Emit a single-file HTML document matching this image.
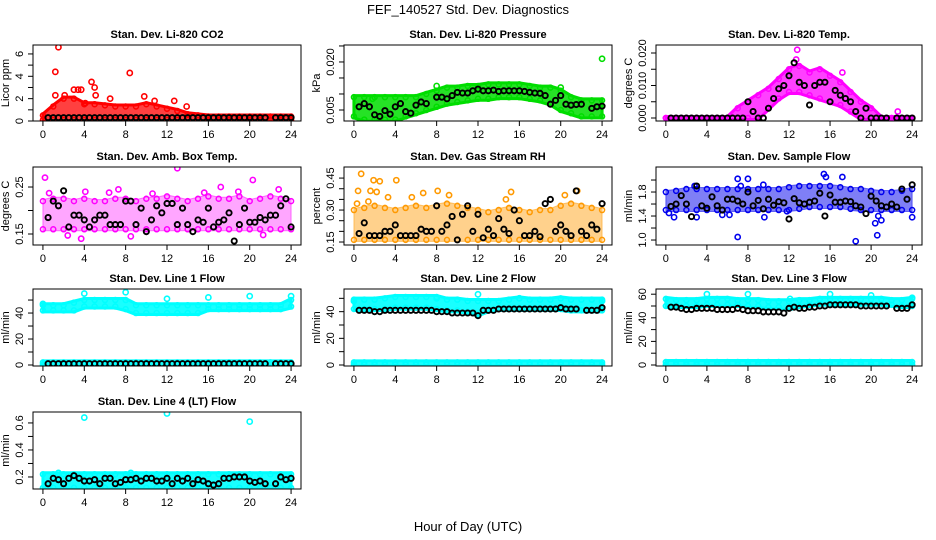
<!DOCTYPE html>
<html><head><meta charset="utf-8">
<style>
html,body{margin:0;padding:0;background:#fff;}
svg{display:block;font-family:"Liberation Sans",Arial,sans-serif;}
</style></head>
<body>
<svg id="chart" width="936" height="540" viewBox="0 0 936 540">
<text x="468" y="14" text-anchor="middle" font-size="13">FEF_140527  Std. Dev. Diagnostics</text>
<text x="468" y="531" text-anchor="middle" font-size="13">Hour of Day (UTC)</text>
</svg>
<script>
const hours25 = [0,1,2,3,4,5,6,7,8,9,10,11,12,13,14,15,16,17,18,19,20,21,22,23,24];
const hours49 = [0,0.5,1,1.5,2,2.5,3,3.5,4,4.5,5,5.5,6,6.5,7,7.5,8,8.5,9,9.5,10,10.5,11,11.5,12,12.5,13,13.5,14,14.5,15,15.5,16,16.5,17,17.5,18,18.5,19,19.5,20,20.5,21,21.5,22,22.5,23,23.5,24];
const xTickLabels = ["0","4","8","12","16","20","24"];

// Panel 1: CO2
const co2Lo = [0.1,0.1,0.1,0.1,0.1,0.1,0.1,0.1,0.1,0.1,0.1,0.1,0.1,0.1,0.1,0.1,0.1,0.1,0.1,0.1,0.1,0.1,0.1,0.1,0.1];
const co2Hi = [0.5,1.3,2.0,2.0,1.5,1.5,1.4,1.3,1.3,1.3,1.5,1.3,1.1,0.9,0.6,0.5,0.4,0.4,0.4,0.4,0.4,0.4,0.4,0.4,0.4];
const co2ExtraX = [1.5,1.2,1.2,8.4,4.7,5.0,3.0,3.4,3.7,5.1,9.8,6.5,12.7,10.8,13.9,2.1,4.1];
const co2ExtraY = [6.6,4.4,2.3,4.3,3.5,3.0,2.8,2.8,2.8,2.3,2.2,2.0,1.8,1.8,1.3,2.3,1.6];
const co2Black = [null,0.3,0.3,0.3,0.3,0.3,0.3,0.3,0.3,0.3,0.3,0.3,0.3,0.3,0.3,0.3,0.3,0.3,0.3,0.3,0.3,0.3,0.3,0.3,0.3,0.3,0.3,0.3,0.3,0.3,0.3,0.3,0.3,0.3,0.3,0.3,0.3,0.3,0.3,0.3,0.3,0.3,0.3,0.3,null,0.3,0.3,0.3,0.3];

// Panel 2: Pressure
const presLo = [0.003,0.002,0.002,0.002,0.002,0.003,0.004,0.005,0.006,0.007,0.0075,0.008,0.0085,0.0085,0.009,0.009,0.009,0.0085,0.008,0.007,0.005,0.004,0.003,0.003,0.003];
const presHi = [0.009,0.009,0.009,0.009,0.009,0.009,0.009,0.010,0.011,0.012,0.012,0.0125,0.0125,0.013,0.013,0.013,0.013,0.0125,0.012,0.012,0.011,0.009,0.008,0.008,0.008];
const presExtraX = [8,16,24,8,1.8,20];
const presExtraY = [0.0265,0.0262,0.021,0.0125,0.0085,0.012];
const presBlack = [null,0.006,0.007,0.006,0.0035,0.003,0.0048,0.0037,0.006,0.007,0.0045,0.004,0.0065,0.0075,0.007,null,0.009,0.009,0.0085,0.0095,0.0105,0.0103,0.0103,0.011,0.0115,0.011,0.011,0.0112,0.0108,0.011,0.011,0.011,0.011,0.0108,0.0105,0.0103,0.0102,0.0095,0.0068,0.008,0.0095,0.0068,0.0065,0.0067,0.0068,null,0.0055,0.006,0.0062];

// Panel 3: Li-820 Temp
const tempLo = [0,0,0,0,0,0,0,0,0,0,0.003,0.006,0.008,0.008,0.007,0.006,0.005,0.004,0.002,0,0,0,0,0,0];
const tempHi = [0,0,0,0,0,0,0,0.003,0.005,0.007,0.009,0.012,0.015,0.016,0.014,0.015,0.013,0.011,0.008,0.005,0.003,0,0,0,0];
const tempExtraX = [12.8,12.7,17.2,22.6];
const tempExtraY = [0.021,0.018,0.014,0.002];
const tempBlack = [null,0,0,0,0,0,0,0,0,0,0,0,0,0,0,0,0.005,0.002,0,0,0.003,0.006,0.009,0.01,0.013,0.017,0.011,0.01,0.004,0.01,0.011,0.011,0.005,0.0085,0.007,0.006,0.005,0.002,0,0.003,0,0,0,0,null,0,0,0,0];

// Panel 4: Amb Box Temp
const ambLo = [0.16,0.16,0.16,0.16,0.16,0.16,0.16,0.16,0.16,0.16,0.16,0.16,0.16,0.16,0.16,0.16,0.16,0.16,0.16,0.16,0.16,0.16,0.16,0.16,0.16];
const ambHi = [0.22,0.225,0.225,0.22,0.225,0.22,0.22,0.225,0.225,0.22,0.225,0.225,0.23,0.225,0.22,0.225,0.23,0.225,0.225,0.23,0.22,0.225,0.23,0.225,0.22];
const ambExtraX = [0.2,13,20.3,22.8,7.3,17.2,3.7,8.5,21.3,2.4,18.9,4.1,15.6,6.4,0.6,10.6];
const ambExtraY = [0.27,0.29,0.265,0.245,0.245,0.25,0.14,0.145,0.148,0.147,0.24,0.24,0.238,0.238,0.237,0.236];
const ambBlack = [null,0.185,0.22,0.21,0.242,0.165,0.19,0.19,0.18,0.165,0.18,0.19,0.19,0.17,0.17,0.17,0.22,0.22,0.17,0.205,0.155,0.18,0.21,0.195,0.215,0.215,0.17,0.205,0.17,0.155,0.18,0.175,0.205,0.165,0.175,0.18,0.195,0.135,0.17,0.205,0.175,0.175,0.185,0.18,0.19,0.19,0.21,0.225,0.165];

// Panel 5: Gas Stream RH
const rhLo = [0.16,0.16,0.16,0.16,0.16,0.16,0.16,0.16,0.16,0.16,0.16,0.16,0.16,0.16,0.16,0.16,0.16,0.16,0.16,0.16,0.16,0.16,0.16,0.16,0.16];
const rhHi = [0.3,0.31,0.32,0.31,0.3,0.31,0.32,0.31,0.32,0.33,0.32,0.31,0.3,0.29,0.3,0.31,0.3,0.29,0.3,0.3,0.32,0.33,0.32,0.31,0.3];
const rhExtraX = [0.7,1.9,2.5,4.1,0.4,1.6,2.2,8.1,15.2,21.6,3.3,5.6,6.7,9.2,14.7,20.4,0.3,1.4];
const rhExtraY = [0.47,0.44,0.435,0.44,0.39,0.39,0.385,0.39,0.385,0.39,0.36,0.36,0.38,0.37,0.35,0.37,0.33,0.34];
const rhBlack = [null,0.19,0.24,0.18,0.18,0.18,0.2,0.2,0.23,0.18,0.18,0.18,0.18,0.21,0.2,0.2,0.32,0.2,0.23,0.27,0.16,0.28,0.32,0.2,0.28,0.17,0.21,0.18,0.26,0.21,0.19,0.3,0.25,0.18,0.18,0.2,0.175,0.33,0.35,0.2,0.23,0.2,0.18,0.39,0.2,0.18,0.23,0.21,0.33];

// Panel 6: Sample Flow
const sfLo = [1.5,1.5,1.5,1.5,1.5,1.5,1.5,1.5,1.5,1.5,1.5,1.5,1.5,1.52,1.55,1.55,1.55,1.55,1.52,1.5,1.5,1.5,1.5,1.5,1.5];
const sfHi = [1.8,1.82,1.85,1.85,1.85,1.85,1.85,1.85,1.85,1.85,1.85,1.85,1.88,1.9,1.9,1.9,1.9,1.88,1.85,1.85,1.82,1.8,1.8,1.82,1.85];
const sfExtraX = [15.4,17.2,7.0,8.0,7.3,9.5,2.8,0.3,0.8,3.0,9.6,7.0,18.5,20.4,20.6,21.0,20.7,24.0,6.2,5.5,15.6,11.8];
const sfExtraY = [2.1,2.05,2.02,2.02,1.9,1.92,1.9,1.45,1.38,1.38,1.38,1.05,0.98,1.28,1.08,1.33,1.4,1.38,1.42,1.42,2.05,1.48];
const sfBlack = [null,1.56,1.6,1.74,1.6,1.39,1.9,1.57,1.53,1.72,1.57,1.5,1.68,1.68,1.65,1.6,1.8,1.57,1.66,1.52,1.68,1.58,1.64,1.62,1.35,1.69,1.62,1.6,1.63,1.65,1.78,1.4,1.75,1.63,1.63,1.65,1.64,1.57,1.55,1.44,1.73,1.65,1.57,1.55,1.6,1.55,1.85,1.68,1.92];

// Panel 7: Line 1 Flow
const l1Lo = [42,42,42,42,45,45,45,45,43,40,40,40,40,40,40,40,43,43,43,43,43,43,43,43,45];
const l1Hi = [46,46,46,48,50,50,50,50,50,46,46,46,46,46,46,46,46,46,46,46,46,46,46,46,50];
const l1BaseLo = [0.3,0.3,0.3,0.3,0.3,0.3,0.3,0.3,0.3,0.3,0.3,0.3,0.3,0.3,0.3,0.3,0.3,0.3,0.3,0.3,0.3,0.3,0.3,0.3,0.3];
const l1BaseHi = [2,2,2,2,2,2,2,2,2,2,2,2,2,2,2,2,2,2,2,2,2,2,2,2,2];
const l1ExtraX = [4,8,12,16,20,24,0];
const l1ExtraY = [55,56,51,52,53,53,47];
const l1Black = [null,1,1,1,1,1,1,1,1,1,1,1,1,1,1,1,1,1,1,1,1,1,1,1,1,1,1,1,1,1,1,1,1,1,1,1,1,1,1,1,1,1,1,1,null,1,1,1,1];

// Panel 8: Line 2 Flow
const l2Lo = [42,42,42,42,43,43,43,43,42,41,41,40,38,41,42,42,42,42,42,42,42,41,41,41,41];
const l2Hi = [49,49,49,50,51,51,51,51,51,49,49,48,48,48,48,49,50,49,49,49,50,49,49,49,49];
const l2BaseLo = [0.3,0.3,0.3,0.3,0.3,0.3,0.3,0.3,0.3,0.3,0.3,0.3,0.3,0.3,0.3,0.3,0.3,0.3,0.3,0.3,0.3,0.3,0.3,0.3,0.3];
const l2BaseHi = [2,2,2,2,2,2,2,2,2,2,2,2,2,2,2,2,2,2,2,2,2,2,2,2,2];
const l2ExtraX = [0,8,16,24,12];
const l2ExtraY = [48,50,50,48,53];
const l2Black = [null,41,41,41,40,40,41,41,41,41,41,41,41,41,41,41,40,40,40,39,39,39,39,39,37,41,41,41,42,42,42,42,42,42,42,42,42,42,42,42,43,42,42,42,null,41,41,41,43];

// Panel 9: Line 3 Flow
const l3Lo = [50,50,50,50,51,51,51,51,50,50,49,49,48,50,51,52,52,52,52,52,52,52,51,50,50];
const l3Hi = [56,55,55,55,56,56,56,55,55,55,54,54,54,55,55,56,56,56,56,56,56,56,55,55,56];
const l3BaseLo = [0.3,0.3,0.3,0.3,0.3,0.3,0.3,0.3,0.3,0.3,0.3,0.3,0.3,0.3,0.3,0.3,0.3,0.3,0.3,0.3,0.3,0.3,0.3,0.3,0.3];
const l3BaseHi = [2.5,2.5,2.5,2.5,2.5,2.5,2.5,2.5,2.5,2.5,2.5,2.5,2.5,2.5,2.5,2.5,2.5,2.5,2.5,2.5,2.5,2.5,2.5,2.5,2.5];
const l3ExtraX = [4,8,16,20,24,12.1];
const l3ExtraY = [60,60,60,59,57,56];
const l3Black = [null,49,49,48,47,47,48,48,48,48,47,47,47,47,48,47,46,46,46,45,45,45,45,44,48,49,48,48,49,49,50,50,51,51,51,51,51,51,50,50,50,50,50,50,null,48,48,48,51];

// Panel 10: Line 4 (LT) Flow
const l4Lo = [0.12,0.12,0.12,0.12,0.12,0.12,0.12,0.12,0.12,0.12,0.12,0.12,0.12,0.12,0.12,0.12,0.12,0.12,0.12,0.12,0.12,0.12,0.12,0.12,0.12];
const l4Hi = [0.22,0.22,0.22,0.22,0.22,0.22,0.22,0.22,0.22,0.22,0.22,0.22,0.22,0.22,0.22,0.22,0.22,0.22,0.22,0.22,0.22,0.22,0.22,0.22,0.22];
const l4ExtraX = [4,12,20,15.5,1.5,8.5];
const l4ExtraY = [0.64,0.67,0.61,0.1,0.23,0.23];
const l4Black = [null,0.15,0.19,0.18,0.15,0.19,0.21,0.19,0.17,0.17,0.18,0.15,0.19,0.19,0.15,0.16,0.18,0.18,0.19,0.17,0.19,0.19,0.17,0.17,0.19,0.15,0.19,0.17,0.19,0.15,0.18,0.17,0.15,0.14,0.15,0.19,0.19,0.2,0.2,0.2,0.17,0.16,0.17,0.15,null,0.15,0.2,0.18,0.19];

const SVGNS = "http://www.w3.org/2000/svg";
const svg = document.getElementById('chart');
function mk(tag, attrs, parent){
  const e = document.createElementNS(SVGNS, tag);
  for (const k in attrs) e.setAttribute(k, attrs[k]);
  parent.appendChild(e);
  return e;
}
const cols = [[33,301],[344,612],[656,922]];
const rows = [[45,121],[167,245],[289,366],[412,489]];
const XMIN = -0.96, XMAX = 24.96;

const panels = [
 {name:'co2',title:'Stan. Dev. Li-820 CO2',yl:'Licor ppm',c:0,r:0,ylim:[0,6.8],ticks:[0,1,2,3,4,5,6],labs:[0,2,4,6],fmt:v=>String(v),col:'#ff0000',lo:co2Lo,hi:co2Hi,ex:co2ExtraX,ey:co2ExtraY,bk:co2Black,op:0.75},
 {name:'pressure',title:'Stan. Dev. Li-820 Pressure',yl:'kPa',c:1,r:0,ylim:[0.00156,0.0253],ticks:[0.005,0.01,0.015,0.02,0.025],labs:[0.005,0.02],fmt:v=>v.toFixed(3),col:'#00dd00',lo:presLo,hi:presHi,ex:presExtraX,ey:presExtraY,bk:presBlack,op:0.85},
 {name:'li820-temp',title:'Stan. Dev. Li-820 Temp.',yl:'degrees C',c:2,r:0,ylim:[-0.00092,0.02246],ticks:[0,0.005,0.01,0.015,0.02],labs:[0,0.01,0.02],fmt:v=>v.toFixed(3),col:'#ff00ff',lo:tempLo,hi:tempHi,ex:tempExtraX,ey:tempExtraY,bk:tempBlack,op:0.75},
 {name:'amb-temp',title:'Stan. Dev. Amb. Box Temp.',yl:'degrees C',c:0,r:1,ylim:[0.1266,0.2926],ticks:[0.15,0.2,0.25],labs:[0.15,0.25],fmt:v=>v.toFixed(2),col:'#ff00ff',lo:ambLo,hi:ambHi,ex:ambExtraX,ey:ambExtraY,bk:ambBlack,op:0.35,thin:true},
 {name:'rh',title:'Stan. Dev. Gas Stream RH',yl:'percent',c:1,r:1,ylim:[0.136,0.502],ticks:[0.15,0.2,0.25,0.3,0.35,0.4,0.45],labs:[0.15,0.3,0.45],fmt:v=>v.toFixed(2),col:'#ff9900',lo:rhLo,hi:rhHi,ex:rhExtraX,ey:rhExtraY,bk:rhBlack,op:0.45,thin:true},
 {name:'sample-flow',title:'Stan. Dev. Sample Flow',yl:'ml/min',c:2,r:1,ylim:[0.917,2.217],ticks:[1.0,1.2,1.4,1.6,1.8,2.0],labs:[1.0,1.4,1.8],fmt:v=>v.toFixed(1),col:'#0000ee',lo:sfLo,hi:sfHi,ex:sfExtraX,ey:sfExtraY,bk:sfBlack,op:0.5,thin:true},
 {name:'line1-flow',title:'Stan. Dev. Line 1 Flow',yl:'ml/min',c:0,r:2,ylim:[-0.77,58.5],ticks:[0,10,20,30,40,50],labs:[0,20,40],fmt:v=>String(v),col:'#00ffff',lo:l1Lo,hi:l1Hi,lo2:l1BaseLo,hi2:l1BaseHi,ex:l1ExtraX,ey:l1ExtraY,bk:l1Black,op:0.9},
 {name:'line2-flow',title:'Stan. Dev. Line 2 Flow',yl:'ml/min',c:1,r:2,ylim:[-0.75,57],ticks:[0,10,20,30,40,50],labs:[0,20,40],fmt:v=>String(v),col:'#00ffff',lo:l2Lo,hi:l2Hi,lo2:l2BaseLo,hi2:l2BaseHi,ex:l2ExtraX,ey:l2ExtraY,bk:l2Black,op:0.9},
 {name:'line3-flow',title:'Stan. Dev. Line 3 Flow',yl:'ml/min',c:2,r:2,ylim:[-0.85,64.4],ticks:[0,10,20,30,40,50,60],labs:[0,20,40,60],fmt:v=>String(v),col:'#00ffff',lo:l3Lo,hi:l3Hi,lo2:l3BaseLo,hi2:l3BaseHi,ex:l3ExtraX,ey:l3ExtraY,bk:l3Black,op:0.9},
 {name:'line4-flow',title:'Stan. Dev. Line 4 (LT) Flow',yl:'ml/min',c:0,r:3,ylim:[0.111,0.681],ticks:[0.2,0.3,0.4,0.5,0.6],labs:[0.2,0.4,0.6],fmt:v=>v.toFixed(1),col:'#00ffff',lo:l4Lo,hi:l4Hi,ex:l4ExtraX,ey:l4ExtraY,bk:l4Black,op:0.9}
];

panels.forEach(p => {
  const [x0,x1] = cols[p.c], [y0,y1] = rows[p.r];
  const g = mk('g',{},svg);
  
  
  const sx = v => x0 + (v - XMIN) / (XMAX - XMIN) * (x1 - x0);
  const sy = v => y1 - (v - p.ylim[0]) / (p.ylim[1] - p.ylim[0]) * (y1 - y0);
  const clip = 'clip-' + p.name;
  const cp = mk('clipPath',{id:clip},g);
  mk('rect',{x:x0,y:y0,width:x1-x0,height:y1-y0},cp);
  const plot = mk('g',{'clip-path':'url(#'+clip+')'},g);

  function band(lo, hi, nm){
    let pts = [];
    hours25.forEach((h,i)=>pts.push(sx(h)+','+(sy(hi[i])-1.5)));
    for (let i=hours25.length-1;i>=0;i--) pts.push(sx(hours25[i])+','+(sy(lo[i])+1.5));
    const poly = mk('polygon',{points:pts.join(' '),fill:p.col,'fill-opacity':p.op,stroke:p.col,'stroke-opacity':p.thin?0.5:1,'stroke-width':p.thin?1:3,'stroke-linejoin':'round'},plot);
    
    
    hours25.forEach((h,i)=>{
      [lo[i],hi[i]].forEach(v=>{
        const c = mk('circle',{cx:sx(h),cy:sy(v),r:2.5,fill:'none',stroke:p.col,'stroke-width':1.5},plot);
        
        
      });
    });
  }
  band(p.lo, p.hi, p.name + '-band');
  if (p.lo2) band(p.lo2, p.hi2, p.name + '-base-band');
  p.ex.forEach((xv,i)=>{
    const c = mk('circle',{cx:sx(xv),cy:sy(p.ey[i]),r:2.6,fill:'none',stroke:p.col,'stroke-width':1.6},plot);
    
    
  });
  p.bk.forEach((v,i)=>{
    if (v === null) return;
    const c = mk('circle',{cx:sx(hours49[i]),cy:sy(v),r:2.6,fill:'none',stroke:'#000','stroke-width':1.9},plot);
    
    
  });

  const box = mk('rect',{x:x0,y:y0,width:x1-x0,height:y1-y0,fill:'none',stroke:'#000','stroke-width':1},g);
  
  

  const t = mk('text',{x:(x0+x1)/2,y:y0-7,'text-anchor':'middle','font-size':11,'font-weight':'bold'},g);
  t.textContent = p.title;
  
  

  xTickLabels.forEach(lb=>{
    const xv = +lb, px = sx(xv);
    mk('line',{x1:px,x2:px,y1:y1,y2:y1+5,stroke:'#000'},g);
    const tx = mk('text',{x:px,y:y1+17,'text-anchor':'middle','font-size':11},g);
    tx.textContent = lb;
    
    
  });
  p.ticks.forEach(v=>{
    const py = sy(v);
    mk('line',{x1:x0-5,x2:x0,y1:py,y2:py,stroke:'#000'},g);
  });
  p.labs.forEach(v=>{
    const py = sy(v), lx = x0-10;
    const tx = mk('text',{x:lx,y:py,'text-anchor':'middle','font-size':11,transform:'rotate(-90 '+lx+' '+py+')'},g);
    tx.textContent = p.fmt(v);
    
    
  });
  const ax = x0-24, ay = (y0+y1)/2;
  const yt = mk('text',{x:ax,y:ay,'text-anchor':'middle','font-size':11,transform:'rotate(-90 '+ax+' '+ay+')'},g);
  yt.textContent = p.yl;
  
  
});
</script>
</body></html>
